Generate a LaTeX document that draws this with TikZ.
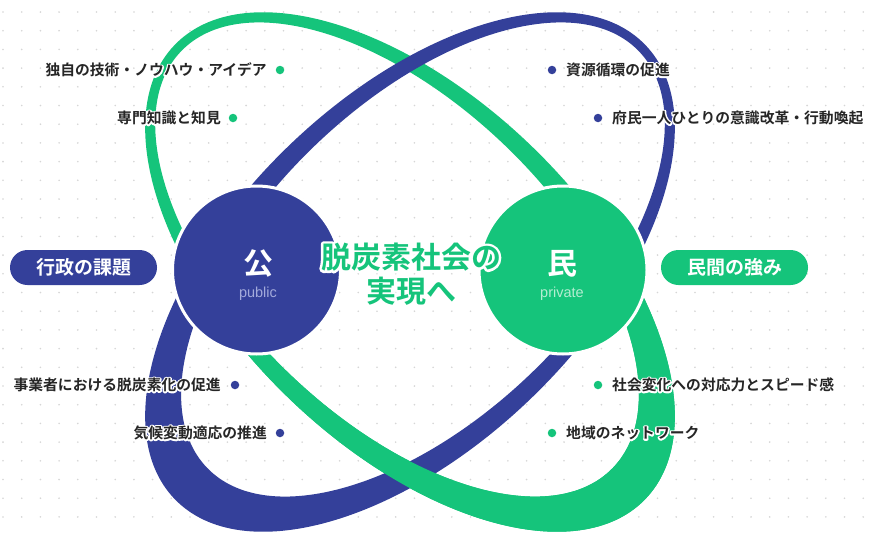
\documentclass[tikz,border=0pt]{standalone}
\usepackage{fontspec}
\setmainfont{Noto Sans CJK JP}[BoldFont={Noto Sans CJK JP Bold}]
\newfontfamily\latinsans{Liberation Sans}
\definecolor{kblue}{HTML}{34409A}
\definecolor{kgreen}{HTML}{15C47B}
\definecolor{kbluelight}{HTML}{A3AADB}
\definecolor{kgreenlight}{HTML}{B5EDD2}
\definecolor{ktext}{HTML}{262626}
\definecolor{kdot}{HTML}{D6D6D6}
\newcommand\greenband{%
  \begin{scope}[shift={(410,272)},rotate=-44]
    \fill[kgreen,even odd rule] (0,0) ellipse [x radius=327,y radius=175]
      (-18,0) ellipse [x radius=300,y radius=157];
  \end{scope}}
\newcommand\blueband{%
  \begin{scope}[shift={(410,272)},rotate=44]
    \fill[kblue,even odd rule] (0,0) ellipse [x radius=327,y radius=175]
      (18,0) ellipse [x radius=300,y radius=157];
  \end{scope}}
% white outline (halo) behind text: stroke-only rendering
\newcommand\halotxt[2]{\special{pdf:literal 1 Tr #1 w 1 j}#2\special{pdf:literal 0 Tr}}
\begin{document}
\begin{tikzpicture}[x=1pt,y=-1pt,
  lbl/.style={font=\bfseries\fontsize{14.8}{16}\selectfont, text=ktext, inner sep=0pt},
  lblhalo/.style={lbl, text=white},
  bullet/.style={circle, inner sep=0pt, minimum size=8.5pt},
  pill/.style={rectangle, rounded corners=17.5pt, minimum width=147pt, minimum height=35pt, inner sep=0pt, text=white, font=\bfseries\fontsize{19}{21}\selectfont},
  bigdisc/.style={circle, minimum size=168pt, inner sep=0pt, draw=white, line width=3pt},
  goalfont/.style={font=\bfseries\fontsize{30}{34}\selectfont, align=center, inner sep=0pt},
  ]
\fill[white] (0,0) rectangle (870,533);
\useasboundingbox (0,0) rectangle (870,533);
\foreach \i in {0,...,46}{\foreach \j in {0,...,28}{\fill[kdot] ({3+18.7*\i},{12+18.7*\j}) circle (0.9pt);}}
% bands (interlaced)
\greenband
\blueband
\begin{scope}
  \clip (0,272) rectangle (870,533);
  \greenband
\end{scope}
% circles
\node[bigdisc, fill=kblue] (pub) at (256.5,270) {};
\node[font=\bfseries\fontsize{30}{32}\selectfont, text=white, inner sep=0pt] (pubk) at (258,263.5) {公};
\node[font=\latinsans\fontsize{14.5}{16}\selectfont, text=kbluelight, inner sep=0pt] (pube) at (258,294) {public};
\node[bigdisc, fill=kgreen] (pri) at (563,270) {};
\node[font=\bfseries\fontsize{30}{32}\selectfont, text=white, inner sep=0pt] (prik) at (562.5,263.5) {民};
\node[font=\latinsans\fontsize{14.5}{16}\selectfont, text=kgreenlight, inner sep=0pt] (prie) at (562,294) {private};
% goal
\node[goalfont, text=white] (goalh) at (411,274) {\halotxt{5}{脱炭素社会の\\実現へ}};
\node[goalfont, text=kgreen] (goal) at (411,274) {脱炭素社会の\\実現へ};
% pills
\node[pill, fill=kblue] (gyousei) at (83.5,267.5) {行政の課題};
\node[pill, fill=kgreen] (minkan) at (734.5,267.5) {民間の強み};
% labels
\node[bullet, fill=kgreen] (d1) at (280,70) {};
\node[lblhalo, anchor=east] (t1h) at (267,70) {\halotxt{3}{独自の技術・ノウハウ・アイデア}};
\node[lbl, anchor=east] (t1) at (267,70) {独自の技術・ノウハウ・アイデア};
\node[bullet, fill=kgreen] (d2) at (233,118) {};
\node[lblhalo, anchor=east] (t2h) at (221,118) {\halotxt{3}{専門知識と知見}};
\node[lbl, anchor=east] (t2) at (221,118) {専門知識と知見};
\node[bullet, fill=kblue] (d3) at (552,70) {};
\node[lblhalo, anchor=west] (t3h) at (566,70) {\halotxt{3}{資源循環の促進}};
\node[lbl, anchor=west] (t3) at (566,70) {資源循環の促進};
\node[bullet, fill=kblue] (d4) at (598,118) {};
\node[lblhalo, anchor=west] (t4h) at (612,118) {\halotxt{3}{府民一人ひとりの意識改革・行動喚起}};
\node[lbl, anchor=west] (t4) at (612,118) {府民一人ひとりの意識改革・行動喚起};
\node[bullet, fill=kblue] (d5) at (235,385) {};
\node[lblhalo, anchor=east] (t5h) at (221,385) {\halotxt{3}{事業者における脱炭素化の促進}};
\node[lbl, anchor=east] (t5) at (221,385) {事業者における脱炭素化の促進};
\node[bullet, fill=kblue] (d6) at (280,433) {};
\node[lblhalo, anchor=east] (t6h) at (267,433) {\halotxt{3}{気候変動適応の推進}};
\node[lbl, anchor=east] (t6) at (267,433) {気候変動適応の推進};
\node[bullet, fill=kgreen] (d7) at (598,385) {};
\node[lblhalo, anchor=west] (t7h) at (612,385) {\halotxt{3}{社会変化への対応力とスピード感}};
\node[lbl, anchor=west] (t7) at (612,385) {社会変化への対応力とスピード感};
\node[bullet, fill=kgreen] (d8) at (552,433) {};
\node[lblhalo, anchor=west] (t8h) at (566,433) {\halotxt{3}{地域のネットワーク}};
\node[lbl, anchor=west] (t8) at (566,433) {地域のネットワーク};
\end{tikzpicture}
\end{document}
